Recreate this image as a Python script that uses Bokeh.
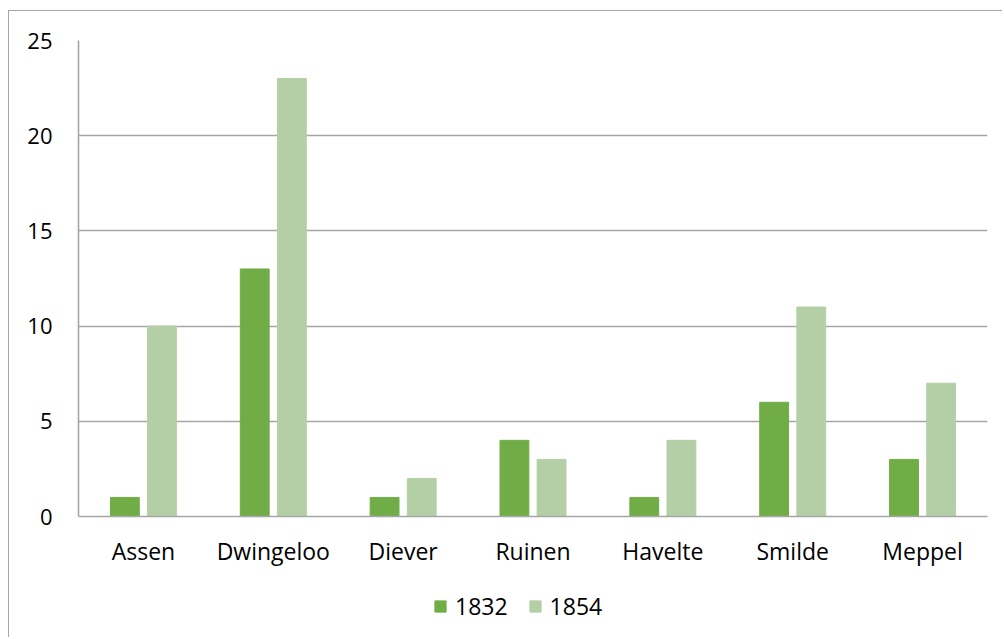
from bokeh.plotting import figure
from bokeh.models import ColumnDataSource, FactorRange, Legend, LegendItem, FixedTicker, Range1d
from bokeh.layouts import column
from bokeh.transform import dodge
from bokeh.embed import file_html
from bokeh.resources import INLINE

places = ["Assen", "Dwingeloo", "Diever", "Ruinen", "Havelte", "Smilde", "Meppel"]
v1832 = [1, 13, 1, 4, 1, 6, 3]
v1854 = [10, 23, 2, 3, 4, 11, 7]
series_names = ["1832", "1854"]
y_ticks = [0, 5, 10, 15, 20, 25]

FONT = "Open Sans"
GRAY = "#a6a6a6"
DARK = "#70AD47"
LIGHT = "#B4CFA6"

src = ColumnDataSource(dict(x=places, a=v1832, b=v1854))

p = figure(x_range=FactorRange(factors=places, range_padding=0), y_range=(0, 25),
           width=994, height=564, output_backend="svg", toolbar_location=None,
           min_border_left=69, min_border_right=16, min_border_top=29, min_border_bottom=59)
p.margin = (10, 0, 0, 8)
p.styles = {"border-left": "1px solid #a6a6a6", "border-top": "1px solid #a6a6a6"}
p.outline_line_color = None

p.vbar(x=dodge("x", -0.143, range=p.x_range), top="a", width=0.222, source=src, color=DARK)
p.vbar(x=dodge("x", 0.143, range=p.x_range), top="b", width=0.222, source=src, color=LIGHT)

p.xgrid.grid_line_color = None
p.ygrid.grid_line_color = GRAY
p.ygrid.grid_line_width = 1.6
p.yaxis.ticker = FixedTicker(ticks=y_ticks)

for ax in (p.xaxis[0], p.yaxis[0]):
    ax.axis_line_color = GRAY
    ax.axis_line_width = 1.6
    ax.major_tick_line_color = None
    ax.minor_tick_line_color = None
    ax.major_label_text_font = FONT
    ax.major_label_text_color = "#000000"
p.yaxis.major_label_text_font_size = "22px"
p.xaxis.major_label_text_font_size = "23px"
p.yaxis.major_label_standoff = 20
p.xaxis.major_label_standoff = 12

# legend strip (side-panel legends collapse in this renderer, so use a small figure
# whose frame holds the legend; its renderers are hidden and only feed the legend)
lf = figure(x_range=FactorRange(factors=places, range_padding=0), y_range=Range1d(-10, -9),
            width=994, height=63, output_backend="svg", toolbar_location=None,
            x_axis_type=None, y_axis_type=None,
            min_border_left=0, min_border_right=0, min_border_top=0, min_border_bottom=0)
lf.margin = (0, 0, 0, 8)
lf.styles = {"border-left": "1px solid #a6a6a6"}
lf.outline_line_color = None
lf.grid.grid_line_color = None
d1 = lf.vbar(x=dodge("x", -0.143, range=lf.x_range), top="a", width=0.222, source=src, color=DARK)
d2 = lf.vbar(x=dodge("x", 0.143, range=lf.x_range), top="b", width=0.222, source=src, color=LIGHT)
d1.visible = False
d2.visible = False

legend = Legend(items=[LegendItem(label=series_names[0], renderers=[d1]),
                       LegendItem(label=series_names[1], renderers=[d2])],
                orientation="horizontal", location=(355, 15),
                label_text_font=FONT, label_text_font_size="23px", label_text_color="#000000",
                glyph_width=14, glyph_height=14, label_standoff=8, spacing=20,
                inactive_fill_alpha=0,
                border_line_color=None, background_fill_alpha=0, padding=0, margin=0)
lf.add_layout(legend, "center")

layout = column(p, lf, spacing=0)
open("out.html", "w").write(file_html(layout, INLINE))
